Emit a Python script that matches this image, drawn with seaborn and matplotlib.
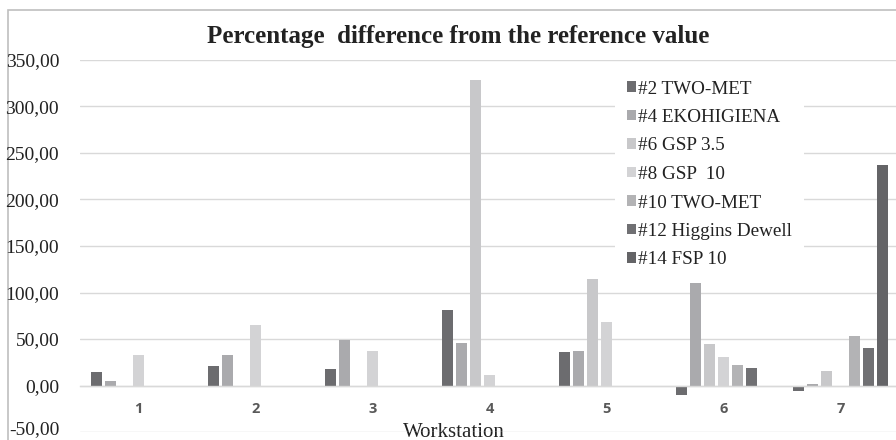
import numpy as np
import pandas as pd
import seaborn as sns
import matplotlib
matplotlib.use("Agg")
import matplotlib.pyplot as plt
from matplotlib.patches import Patch, Rectangle
from matplotlib.ticker import FuncFormatter, FixedLocator
from matplotlib.transforms import ScaledTranslation

# ---- data ----
workstations = ["1", "2", "3", "4", "5", "6", "7"]
series_names = ["#2 TWO-MET", "#4 EKOHIGIENA", "#6 GSP 3.5", "#8 GSP  10",
                "#10 TWO-MET", "#12 Higgins Dewell", "#14 FSP 10"]
two_met_2 = [15, 21, 18, 81, 36, -10, -6]
ekohigiena_4 = [5, 33, 49, 46, 37, 110, 1.5]
gsp35_6 = [0, 0, 0, 328, 115, 45, 16]
gsp10_8 = [33, 65, 37, 11, 68, 31, 0]
two_met_10 = [0, 0, 0, 0, 0, 22, 53]
higgins_12 = [0, 0, 0, 0, 0, 19, 40]
fsp10_14 = [0, 0, 0, 0, 0, 0, 237]
colors = ["#6c6c6f", "#aaaaad", "#c8c8ca", "#d3d3d5", "#b3b3b5", "#707073", "#646467"]

values = [two_met_2, ekohigiena_4, gsp35_6, gsp10_8, two_met_10, higgins_12, fsp10_14]
rows = []
for name, vals in zip(series_names, values):
    for ws, v in zip(workstations, vals):
        rows.append({"Workstation": ws, "Series": name, "Value": v})
df = pd.DataFrame(rows)

sns.set_style("white")
plt.rcParams["font.family"] = ["Liberation Serif", "DejaVu Serif"]

W, H = 896, 440
fig = plt.figure(figsize=(W / 100, H / 100), dpi=100)
ax = fig.add_axes([80 / W, 8 / H, 819 / W, 372 / H])

sns.barplot(data=df, x="Workstation", y="Value", hue="Series",
            order=workstations, hue_order=series_names,
            palette=colors, width=0.84, gap=0.2, linewidth=0,
            legend=False, ax=ax)

ax.set_ylim(-50, 350)
ax.set_xlim(-0.5, 6.5)
ax.set_yticks(np.arange(-50, 351, 50))
ax.yaxis.set_major_formatter(FuncFormatter(lambda v, p: f"{v:.2f}".replace(".", ",")))
ax.grid(axis="y", color="#d9d9d9", linewidth=1)
ax.set_axisbelow(True)
for s in ["top", "right", "left"]:
    ax.spines[s].set_visible(False)
ax.spines["bottom"].set_position(("data", 0))
ax.spines["bottom"].set_color("#d9d9d9")
ax.spines["bottom"].set_linewidth(1)
ax.tick_params(axis="y", length=0, pad=15, labelsize=14, labelcolor="#222222")
ax.tick_params(axis="x", which="major", length=0, pad=12)
ax.xaxis.set_minor_locator(FixedLocator(np.arange(-0.5, 7, 1)))
ax.tick_params(axis="x", which="minor", length=5, color="#d9d9d9", width=1)
for lab in ax.get_xticklabels():
    lab.set_fontfamily(["Open Sans", "DejaVu Sans"])
    lab.set_fontweight("bold")
    lab.set_fontsize(10.5)
    lab.set_color("#595959")
ylabs = ax.get_yticklabels()
for lab in ylabs:
    lab.set_va("center_baseline")
ylabs[0].set_transform(ylabs[0].get_transform() + ScaledTranslation(0, 3 / 72, fig.dpi_scale_trans))
ax.set_ylabel("")
ax.set_xlabel("Workstation", fontsize=15, color="#222222", va="center",
              bbox=dict(facecolor="white", edgecolor="none", pad=1))
ax.xaxis.set_label_coords((454 - 80) / 819, 0.0)

fig.text(458 / W, 1 - 37 / H, "Percentage  difference from the reference value",
         ha="center", va="center", fontsize=18, fontweight="bold", color="#222222")

handles = [Patch(facecolor=c, edgecolor="none") for c in colors]
leg = ax.legend(handles, series_names, loc="upper left",
                bbox_to_anchor=(615 / W, 1 - 69 / H), bbox_transform=fig.transFigure,
                fontsize=13.8, frameon=True, framealpha=1, facecolor="white",
                edgecolor="none", fancybox=False, handlelength=0.47, handleheight=0.47,
                handletextpad=0.15, labelspacing=0.6, borderpad=0.6, borderaxespad=0)
for t in leg.get_texts():
    t.set_color("#222222")

fig.patches.append(Rectangle((8 / W, -0.1), 1.2, 1.1 - 10 / H + 0.0,
                             transform=fig.transFigure, fill=False,
                             edgecolor="#bfbfbf", linewidth=1.2, zorder=-1))

fig.savefig("out.png", dpi=100, facecolor="white")
